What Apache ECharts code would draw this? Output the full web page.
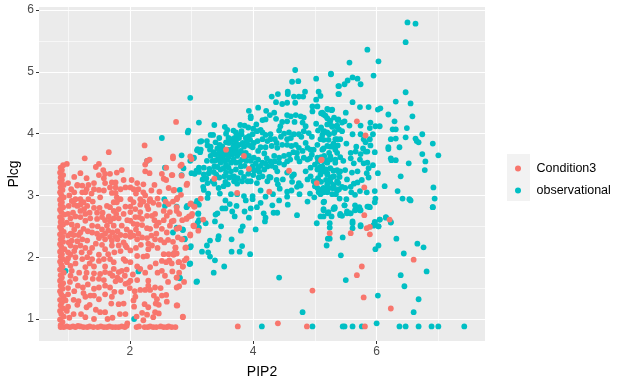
<!DOCTYPE html>
<html>
<head>
<meta charset="utf-8">
<script src="https://cdn.jsdelivr.net/npm/echarts@6/dist/echarts.min.js"></script>
<style>
html, body { margin: 0; padding: 0; background: #fff; }
#chart { width: 626px; height: 386px; }
</style>
</head>
<body>
<div id="chart"></div>
<script type="text/javascript">
var seriesNames = ['Condition3', 'observational'];
var xMajor = [2, 4, 6];
var xMinor = [1, 3, 5, 7];
var yMajor = [1, 2, 3, 4, 5, 6];
var yMinor = [1.5, 2.5, 3.5, 4.5, 5.5];

// values: [PIP2, Plcg]
var observationalPoints = [
	[6.5,5.8],[6.63,5.78],[6.47,5.48],[5.85,5.36],[5.56,5.15],[6.03,5.17],[5.26,4.96],[5.95,4.94],[5.61,4.91],[5.69,4.89],
	[5.53,4.86],[5.48,4.8],[5.39,4.77],[5.74,4.8],[5.39,4.64],[6.47,4.67],[6.31,4.52],[6.55,4.49],[5.61,4.51],[5.73,4.43],
	[5.87,4.43],[6.02,4.39],[6.06,4.41],[6.19,4.31],[6.58,4.28],[5.5,4.34],[5.21,4.39],[5.27,4.38],[6.29,4.2],[5.9,4.18],
	[5.56,4.13],[5.74,4.13],[5.98,4.12],[6.05,4.12],[5.89,4.09],[6.49,4.09],[6.26,4.07],[6.31,4.07],[5.61,3.99],[5.74,3.99],
	[5.94,3.99],[6.74,3.99],[6.47,3.94],[6.31,3.92],[6.23,3.91],[6.63,3.92],[5.89,3.91],[5.79,3.91],[6.65,3.88],[6.68,3.86],
	[6.91,3.84],[5.82,3.86],[5.9,3.81],[5.51,3.84],[6.19,3.78],[6.19,3.75],[6.37,3.78],[5.85,3.71],[5.97,3.7],[6.74,3.67],
	[7.0,3.65],[6.23,3.6],[6.31,3.57],[6.24,3.57],[6.79,3.55],[6.52,3.52],[5.94,3.49],[5.87,3.44],[6.78,3.41],[6.02,3.36],
	[6.39,3.31],[6.13,3.15],[6.92,3.13],[6.34,3.07],[5.97,3.07],[5.84,3.05],[6.42,2.95],[6.53,2.94],[6.55,2.92],[6.94,2.95],
	[5.98,2.95],[5.97,2.89],[5.89,2.81],[5.85,2.82],[6.91,2.81],[6.05,2.61],[6.15,2.65],[6.23,2.57],[5.97,2.57],[6.03,2.5],
	[5.74,2.5],[5.61,2.58],[5.61,2.47],[5.24,2.55],[5.24,2.48],[5.95,2.52],
	[5.14,4.31],[5.1,4.33],[5.2,4.25],[5.25,4.21],[5.37,4.22],[5.44,4.18],[5.48,4.2],[5.36,4.13],[5.28,4.11],[5.24,4.17],
	[5.14,4.03],[5.2,4.02],[5.32,4.03],[5.44,4.04],[5.12,3.98],[5.14,3.9],[5.22,3.9],[5.33,3.91],[5.41,3.91],[5.3,3.84],
	[5.37,3.81],[5.25,3.79],[5.14,3.76],[5.33,3.74],[5.67,3.79],[5.78,3.76],[5.58,3.69],[5.66,3.71],[5.74,3.67],[5.82,3.71],
	[5.25,3.63],[5.33,3.58],[5.41,3.62],[5.46,3.56],[5.2,3.57],[5.58,3.6],[5.63,3.52],[5.73,3.58],[5.79,3.52],[5.85,3.53],
	[5.36,3.41],[5.41,3.39],[5.49,3.41],[5.6,3.37],[5.69,3.39],[5.14,3.39],[5.09,3.41],[5.2,3.36],[5.4,3.3],[5.52,3.26],
	[5.84,3.36],[5.87,3.29],[5.76,3.25],[5.69,3.21],[5.63,3.19],[5.58,3.14],[5.25,3.22],[5.3,3.17],[5.38,3.2],[5.44,3.14],
	[5.49,3.12],[5.36,3.08],[5.28,3.12],[5.14,3.12],[5.14,3.05],[5.2,3.05],[5.65,3.01],[5.73,3.07],[5.59,3.05],[5.14,2.89],
	[5.4,2.95],[5.51,2.94],[5.48,2.84],[5.14,2.78],[5.32,2.81],[5.3,2.78],[5.22,2.73],[5.41,2.7],[5.44,2.67],[5.52,2.74],
	[5.58,2.71],[5.65,2.84],[5.66,2.77],[5.72,2.81],[5.73,2.76],[5.09,2.66],
	[4.68,5.03],[5.26,4.97],[5.02,4.89],[4.73,4.85],[4.63,4.84],[5.38,4.77],[5.38,4.64],[4.56,4.68],[4.56,4.64],[4.4,4.64],
	[4.3,4.6],[4.84,4.68],[4.81,4.6],[4.74,4.6],[4.66,4.6],[5.06,4.68],[5.09,4.61],[5.02,4.55],[4.37,4.51],[4.55,4.5],
	[4.47,4.48],[4.68,4.5],[2.98,4.58],[4.08,4.42],[3.93,4.37],[3.96,4.28],[3.96,4.25],[4.21,4.37],[4.34,4.34],[4.27,4.3],
	[4.2,4.23],[4.15,4.22],[4.37,4.24],[4.55,4.3],[4.69,4.3],[4.77,4.28],[4.82,4.26],[4.61,4.28],[4.96,4.44],[5.04,4.44],
	[4.96,4.36],[5.2,4.4],[5.28,4.39],[5.12,4.34],[5.17,4.29],[5.31,4.26],[5.38,4.23],[5.02,4.16],[4.47,4.19],[4.55,4.2],
	[4.44,4.12],[4.67,4.19],[4.8,4.18],[4.85,4.12],[3.12,4.18],[3.37,4.14],[2.95,4.05],[3.79,4.14],[3.86,4.13],[3.54,4.11],
	[3.58,4.06],[3.56,4.0],[3.31,3.98],[3.35,3.98],[3.45,3.93],[3.25,3.88],[3.16,3.88],[3.26,3.81],[3.31,3.79],[3.1,3.75],
	[3.15,3.74],[3.3,3.74],[3.39,3.86],
	[3.66,3.91],[3.72,3.88],[3.77,3.93],[3.81,3.99],[3.81,4.04],[3.88,3.93],[3.93,3.96],[3.99,3.99],[4.06,4.04],[4.12,4.06],
	[4.15,3.91],[4.07,3.88],[4.01,3.85],[3.96,3.8],[3.91,3.82],[3.85,3.79],[3.77,3.82],[3.69,3.82],[3.61,3.85],[3.56,3.86],
	[3.5,3.79],[3.47,3.72],[3.56,3.66],[3.64,3.74],[3.72,3.74],[3.8,3.72],[3.88,3.69],[3.93,3.64],[4.01,3.61],[4.08,3.58],
	[4.15,3.53],[4.23,3.47],[4.18,3.42],[4.08,3.45],[3.99,3.47],[3.89,3.56],[3.82,3.58],[3.74,3.64],[3.66,3.66],[3.58,3.58],
	[3.5,3.61],[3.42,3.58],[3.34,3.56],[3.25,3.56],[3.31,3.64],[3.39,3.66],[3.04,3.61],[3.12,3.45],[3.2,3.45],[3.29,3.43],
	[3.37,3.47],[3.47,3.53],[3.56,3.5],[3.64,3.53],[3.72,3.53],[3.8,3.47],[3.47,3.42],[3.56,3.37],[3.64,3.39],[3.72,3.42],
	[3.8,3.37],[3.69,3.31],[3.61,3.29],[3.53,3.31],[3.45,3.29],[3.34,3.23],[3.2,3.34],[3.18,3.26],[3.26,3.2],[3.37,3.19],
	[3.19,3.14],[3.2,3.09],[3.44,3.12],[3.52,3.15],[3.59,3.18],[3.69,3.23],[3.74,3.19],[3.82,3.23],[3.91,3.23],[3.96,3.23],
	[4.06,3.2],[4.09,3.29],[4.15,3.31],[4.26,3.3],[4.23,3.23],[4.28,3.29],[4.38,3.25],[4.4,3.18],[4.43,3.11],[4.48,3.26],
	[4.55,3.06],[4.63,3.31],[4.63,3.22],[4.74,3.2],[4.71,3.14],[4.77,3.16],
	[4.28,3.99],[4.28,3.91],[4.35,3.91],[4.23,3.88],[4.39,3.77],[4.47,3.82],[4.55,3.91],[4.61,3.93],[4.66,3.99],[4.74,3.99],
	[4.82,4.04],[4.9,4.01],[4.69,3.82],[4.74,3.77],[4.85,3.85],[4.88,3.77],[4.93,3.74],[4.55,3.82],[4.34,3.64],[4.42,3.61],
	[4.5,3.64],[4.58,3.66],[4.71,3.61],[4.82,3.61],[4.88,3.58],[4.71,3.69],[4.42,3.53],[4.5,3.5],[4.36,3.45],[4.39,3.39],
	[4.55,3.37],[4.66,3.34],[4.93,3.45],[5.04,3.42],[5.12,3.47],[5.2,3.53],[5.25,3.58],[5.33,3.53],[5.15,3.64],[5.23,3.69],
	[5.31,3.79],[5.36,3.91],[5.15,4.04],[5.23,3.99],[5.31,4.01],[5.39,4.07],[5.09,3.91],[5.04,3.82],[4.98,3.74],[5.12,3.74],
	[5.2,3.8],[5.36,3.69],[5.04,3.61],[5.09,3.34],[5.2,3.34],[5.31,3.31],[5.39,3.37],[4.93,3.31],[4.88,3.26],[4.98,3.23],
	[4.85,3.39],[5.36,3.23],[5.31,3.12],[5.39,3.1],[5.2,3.18],[5.12,3.1],[5.09,3.02],[4.92,3.03],[4.99,2.97],[4.88,2.9],
	[5.15,2.9],[5.31,2.8],[5.2,3.07],[5.04,3.12],[3.99,2.99],[3.85,2.99],[3.99,2.94],[3.88,2.92],[3.74,3.02],[3.64,3.02],
	[3.46,3.03],[3.27,3.03],[3.26,2.96],
	[7.42,0.88],[7.0,0.88],[6.89,0.88],[6.68,0.88],[6.47,0.88],[6.37,0.88],[6.0,0.93],[5.76,0.88],[5.61,0.88],[5.48,0.88],
	[5.45,0.88],[4.96,0.88],[4.14,0.88],[4.8,1.11],[6.6,1.11],[6.68,1.32],[6.02,1.38],[6.45,1.53],[6.39,1.71],[5.5,1.63],
	[4.42,1.67],[6.81,1.77],[3.09,1.61],[2.81,1.67],[3.36,1.75],[3.53,1.85],[2.98,1.9],[3.38,1.95],[3.3,2.01],[3.27,2.08],
	[3.17,2.09],[3.25,2.19],[3.3,2.27],[3.43,2.29],[3.44,2.34],[3.65,2.29],[3.65,2.09],[3.78,2.09],[3.82,2.18],[3.95,2.05],
	[2.99,2.18],[2.89,2.3],[2.86,2.45],[3.12,2.48],[3.23,2.55],[3.12,2.6],[3.38,2.58],[3.48,2.5],[3.8,2.43],[3.83,2.5],
	[4.04,2.45],[3.11,2.71],[3.7,2.66],[3.93,2.64],[4.19,2.58],[4.2,2.64],[4.17,2.71],[4.33,2.72],[4.39,2.72],[4.71,2.68],
	[5.03,2.55],[5.24,2.3],[5.21,2.3],[5.19,2.19],[5.45,2.32],[5.42,2.03],[5.61,2.55],[5.74,2.52],[5.98,2.13],[6.03,2.19],
	[6.32,2.3],[6.66,2.22],[6.76,2.16],[6.44,2.06],[6.91,2.81],[6.15,2.64],[6.23,2.56],[6.05,2.61],[5.95,2.51],[5.97,2.55],
	[6.03,2.5],[5.14,2.66],[5.21,2.71],[5.27,2.66],[5.32,2.79],[5.41,2.68],[5.52,2.71],[5.57,2.71],[5.65,2.76],[5.74,2.76],
	[5.87,2.82],[5.48,2.84],[5.14,2.76],[4.56,2.85],[4.31,2.84],[4.06,2.81],[3.96,2.79],[3.86,2.74],[3.73,2.83],[3.66,2.74],
	[3.55,2.79],[3.5,2.79],[3.42,2.71],[3.39,2.69],[3.12,2.85],[2.93,2.83],
	[2.52,3.93],[2.94,4.02],[3.14,3.87],[2.84,3.65],[3.09,3.73],[3.03,3.6],[2.98,3.56],[3.14,3.7],[2.87,3.44],[3.0,3.36],
	[3.05,3.35],[2.84,3.33],[2.81,3.09],[2.57,3.45],[2.56,2.94],[2.57,2.83],[2.76,2.82],[2.92,2.81],[3.09,2.91],[3.06,2.86],
	[3.11,2.7],[3.1,2.56],[2.76,2.48],[2.86,2.44],[2.7,2.4],[2.89,2.29],[2.98,2.16],[2.71,2.05],[2.97,1.89],[2.81,1.66],
	[3.08,1.6],[2.07,1.0],[2.14,1.77],[0.96,1.78],[2.28,3.56],
	// second pass through the dense middle
	[3.6,3.93],[3.64,3.88],[3.7,3.93],[3.74,3.98],[3.68,3.78],[3.74,3.8],[3.83,3.85],[3.9,3.88],[3.95,3.9],[3.99,3.78],
	[3.84,3.68],[3.76,3.68],[3.7,3.7],[3.62,3.68],[3.58,3.74],[3.53,3.7],[3.5,3.66],[3.44,3.68],[3.46,3.82],[3.42,3.76],
	[3.36,3.7],[3.52,3.56],[3.46,3.6],[3.6,3.62],[3.68,3.58],[3.78,3.54],[3.86,3.62],[3.96,3.56],[4.04,3.52],[4.12,3.48],
	[4.2,3.52],[4.1,3.38],[4.02,3.4],[3.94,3.42],[3.86,3.48],[3.6,3.45],[3.52,3.44],[3.42,3.46],[3.36,3.38],[3.28,3.36],
	[3.24,3.28],[3.12,3.38],[3.08,3.4],[3.4,3.34],[3.55,3.22],[3.65,3.3],[3.75,3.28],[3.85,3.3],[4.0,3.33],[3.92,3.35],
	[4.08,3.72],[4.18,3.68],[4.22,3.6],[4.28,3.55],[4.35,3.55],[4.3,3.48],[4.2,3.78],[4.12,3.78],[4.3,3.8],[4.38,3.85],
	[4.2,3.98],[4.15,4.02],[4.45,3.95],[4.5,4.0],[4.58,4.02],[4.62,3.8],[4.65,3.7],[4.6,3.58],[4.55,3.55],[4.75,3.55],
	[4.8,3.72],[4.92,3.6],[4.95,3.66],[5.0,3.5],[5.05,3.55],[5.1,3.62],[5.15,3.55],[5.08,3.46],[5.18,3.42],[5.25,3.44],
	[5.3,3.4],[5.28,3.3],[5.05,3.28],[5.1,3.22],[5.18,3.25],[5.25,3.28],[5.0,3.15],[5.06,3.05],[5.22,3.12],[5.28,3.02],
	[5.34,3.02],[4.42,4.05],[4.78,3.95],[4.95,3.95],[5.05,4.05],[5.1,4.1],[5.2,4.15],[5.28,4.12],[5.35,4.12],[3.92,4.1],
	[4.05,4.15],[4.0,4.08],[3.72,4.02],[3.68,4.05],[3.45,3.78],[3.38,3.56],
	// lower fringe of the cloud
	[4.32,3.02],[4.2,2.98],[4.12,3.08],[4.55,2.98],[4.62,3.08],[4.75,3.02],[3.55,2.92],[3.62,2.86],[4.12,2.88],[4.42,2.92]
];

var condition3Points = [
	// scattered top edge
	[1.66,3.7],[1.27,3.6],[2.24,3.81],[0.98,3.51],[1.5,3.51],[1.45,3.46],[1.2,3.36],[2.28,3.56],[2.32,3.58],[2.25,3.5],
	[2.25,3.39],[2.32,3.36],[1.57,3.41],[1.5,3.33],[1.6,3.35],[1.68,3.35],[1.79,3.37],[1.87,3.41],[1.58,3.28],[1.71,3.21],
	[1.77,3.21],[2.03,3.25],[1.15,3.17],[1.23,3.16],[1.33,3.17],
	// left column
	[0.88,0.9],[0.91,0.95],[0.87,0.99],[0.93,1.04],[0.89,1.08],[0.87,1.13],[0.92,1.17],[0.88,1.22],[0.9,1.27],[0.87,1.31],
	[0.93,1.36],[0.89,1.4],[0.87,1.45],[0.91,1.49],[0.88,1.54],[0.92,1.58],[0.87,1.62],[0.9,1.67],[0.88,1.71],[0.93,1.75],
	[0.87,1.8],[0.91,1.84],[0.89,1.88],[0.87,1.93],[0.92,1.97],[0.88,2.01],[0.9,2.05],[0.87,2.09],[0.94,2.13],[0.89,2.17],
	[0.87,2.21],[0.92,2.25],[0.88,2.29],[0.91,2.33],[0.87,2.37],[0.93,2.41],[0.89,2.45],[0.87,2.49],[0.92,2.53],[0.88,2.57],
	[0.9,2.61],[0.87,2.65],[0.94,2.69],[0.89,2.73],[0.87,2.77],[0.92,2.81],[0.88,2.85],[0.9,2.89],[0.87,2.93],[0.93,2.97],
	[0.89,3.01],[0.87,3.05],[0.91,3.09],[0.88,3.13],[0.93,3.17],[0.87,3.21],[0.9,3.25],[0.88,3.29],[0.92,3.33],[0.87,3.37],
	[0.9,3.41],[0.88,3.45],[0.92,3.49],
	// bottom row
	[0.88,0.87],[0.93,0.87],[0.98,0.88],[1.03,0.87],[1.08,0.88],[1.12,0.87],[1.16,0.89],[1.2,0.88],[1.25,0.87],[1.31,0.87],
	[1.35,0.88],[1.41,0.87],[1.48,0.87],[1.53,0.88],[1.58,0.87],[1.63,0.87],[1.67,0.88],[1.72,0.87],[1.77,0.87],[1.82,0.87],
	[1.87,0.88],[1.92,0.87],[1.95,0.89],[1.96,0.93],[2.11,0.87],[2.15,0.88],[2.24,0.87],[2.29,0.87],[2.33,0.88],[2.38,0.87],
	[2.43,0.87],[2.5,0.88],[2.55,0.87],[2.6,0.87],[2.63,0.88],[2.68,0.87],[2.74,0.87],
	// body
	[2.01,3.13],[1.93,3.13],[2.14,3.1],[2.22,3.05],[2.06,3.1],[1.77,3.13],[1.68,3.13],[1.5,3.09],[1.58,3.08],[1.71,3.04],
	[1.77,3.04],[1.05,3.1],[1.15,3.16],[1.23,3.05],[1.28,3.05],[1.42,3.1],[2.48,3.06],[2.4,3.17],[2.63,3.12],[2.71,3.08],
	[2.76,2.94],[2.55,3.27],[2.59,3.25],[2.68,3.33],[2.84,3.32],[2.92,3.17],[2.82,3.48],[2.7,3.6],[2.59,3.45],[2.52,3.35],
	[3.0,3.59],[1.06,2.91],[1.12,2.94],[1.2,2.94],[1.33,2.94],[1.52,2.97],[1.79,2.97],[1.85,2.94],[1.74,2.89],[1.79,2.89],
	[2.01,2.94],[2.17,2.94],[2.25,3.0],[2.33,2.94],[2.06,2.89],[2.17,2.85],[2.22,2.9],[2.32,2.91],[2.47,2.85],[2.63,2.86],
	[2.55,2.75],[1.01,2.83],[1.15,2.83],[1.2,2.75],[1.25,2.89],[1.31,2.83],[1.42,2.8],[1.51,2.8],[1.63,2.83],[1.68,2.81],
	[1.74,2.75],[1.82,2.78],[2.01,2.82],[2.09,2.78],[2.17,2.73],[2.3,2.78],[2.41,2.7],[2.65,2.73],[2.76,2.75],[2.92,2.62],
	[3.0,2.67],[3.03,2.51],[1.04,2.63],[1.12,2.66],[1.2,2.65],[1.28,2.7],[1.36,2.63],[1.47,2.62],[1.55,2.65],[1.66,2.66],
	[1.74,2.63],[1.82,2.63],[2.01,2.73],[2.09,2.65],[2.2,2.62],[2.28,2.67],[2.36,2.67],[2.47,2.56],[2.6,2.67],[2.71,2.59],
	[1.15,2.51],[0.98,2.56],[1.06,2.53],[1.28,2.59],[1.39,2.51],[1.25,2.46],[1.63,2.51],[1.74,2.51],[1.87,2.51],[2.01,2.59],
	[2.06,2.54],[2.12,2.53],[2.28,2.47],[2.33,2.46],[2.43,2.51],[2.52,2.46],[2.65,2.51],[2.76,2.46],
	[1.04,2.38],[1.09,2.36],[1.17,2.36],[1.39,2.4],[1.47,2.38],[1.55,2.35],[1.6,2.38],[1.68,2.33],[1.77,2.33],[1.85,2.36],
	[1.93,2.35],[2.01,2.4],[2.06,2.35],[2.14,2.38],[2.2,2.32],[2.28,2.31],[2.41,2.29],[1.01,2.24],[1.06,2.27],[1.15,2.26],
	[1.23,2.29],[1.31,2.27],[1.5,2.31],[1.6,2.29],[1.71,2.27],[1.8,2.29],[1.9,2.24],[2.01,2.33],[2.12,2.29],[2.56,2.24],
	[2.43,2.38],[2.84,2.29],[2.74,2.15],[2.98,2.35],[3.11,2.43],
	[1.04,2.19],[1.12,2.16],[1.2,2.19],[1.28,2.15],[1.39,2.15],[1.5,2.04],[1.6,2.13],[1.71,2.19],[1.82,2.19],[1.93,2.19],
	[1.95,2.16],[2.36,2.19],[2.3,2.13],[2.28,2.02],[2.22,2.01],[2.12,2.02],[2.01,2.11],[1.9,1.97],[1.12,2.0],[1.23,1.97],
	[1.31,2.0],[1.39,1.97],[1.5,1.94],[1.58,1.97],[1.68,1.97],[1.74,1.92],[1.93,1.94],[2.01,1.92],[1.04,2.04],[0.98,1.92],
	[2.52,1.94],[2.59,1.92],[2.64,1.95],[2.79,1.92],[2.9,2.15],[2.86,1.85],[2.71,2.04],[2.63,2.05],
	[1.04,1.86],[1.06,1.78],[1.28,1.84],[1.42,1.85],[1.52,1.73],[1.6,1.76],[1.68,1.74],[1.74,1.81],[1.82,1.76],[1.87,1.78],
	[2.17,1.81],[2.33,1.84],[2.52,1.78],[2.57,1.7],[2.76,1.67],[1.04,1.7],[1.12,1.65],[1.28,1.67],[1.42,1.74],[1.4,1.65],
	[1.5,1.65],[1.58,1.63],[1.8,1.67],[1.85,1.63],[2.01,1.62],[2.12,1.63],[2.3,1.62],[1.03,1.6],[1.16,1.54],[1.24,1.51],
	[1.32,1.56],[1.42,1.49],[1.5,1.51],[1.6,1.54],[1.68,1.51],[1.77,1.61],[1.93,1.57],[1.98,1.59],[2.3,1.54],[2.17,1.47],
	[2.25,1.47],[2.33,1.47],[2.41,1.51],
	[1.09,1.31],[1.17,1.29],[1.28,1.36],[1.36,1.38],[1.42,1.38],[1.5,1.32],[1.71,1.36],[1.75,1.44],[1.86,1.44],[2.09,1.36],
	[2.06,1.3],[2.39,1.38],[2.44,1.32],[2.52,1.38],[2.59,1.39],[1.82,1.24],[1.35,1.23],[1.3,1.19],[1.15,1.23],[2.24,1.24],
	[2.3,1.19],[2.47,1.23],[2.76,1.22],[2.07,1.2],[1.09,1.08],[1.21,1.08],[1.28,1.03],[1.52,1.11],[1.6,1.11],[1.64,1.0],
	[1.84,1.08],[1.93,1.08],[2.11,1.04],[2.28,1.07],[2.41,1.11],[2.47,1.09],[2.86,1.03],[1.42,1.0],[2.22,0.98],[0.96,1.3],
	[0.98,1.13],
	// second pass through the body
	[1.1,2.85],[1.08,2.72],[1.2,2.85],[1.26,2.78],[1.35,2.72],[1.4,2.9],[1.47,2.72],[1.56,2.72],[1.6,2.6],[1.68,2.58],
	[1.78,2.7],[1.9,2.7],[1.93,2.82],[1.96,2.6],[1.95,2.45],[2.1,2.45],[2.2,2.52],[1.8,2.42],[1.72,2.4],[1.65,2.43],
	[1.55,2.45],[1.48,2.5],[1.32,2.42],[1.2,2.4],[1.1,2.45],[1.0,2.35],[1.0,2.7],[1.02,3.0],[1.1,3.05],[1.3,3.1],
	[1.38,3.03],[1.6,3.2],[1.85,3.1],[2.1,3.03],[2.28,2.83],[2.38,2.88],[2.4,2.6],[2.55,2.6],[2.6,2.4],[2.5,2.28],
	[2.35,2.35],[2.3,2.22],[2.18,2.2],[2.1,2.15],[1.85,2.1],[1.75,2.08],[1.65,2.05],[1.55,2.2],[1.45,2.22],[1.35,2.08],
	[1.22,2.08],[1.1,2.1],[1.0,2.08],[1.0,1.98],[1.12,1.9],[1.35,1.9],[1.6,1.85],[1.95,1.8],[2.05,1.72],[2.12,1.85],
	[2.25,1.75],[2.42,1.9],[2.45,1.75],[2.62,1.6],[1.18,1.75],[1.3,1.75],[1.72,1.7],[1.92,1.7],[1.0,1.5],[1.0,1.4],
	[1.1,1.45],[1.25,1.42],[1.6,1.4],[1.7,1.25],[2.0,1.5],[2.08,1.45],[2.5,1.5],[2.42,1.25],[2.6,1.28],[1.0,1.2],
	[1.02,1.02],[1.45,1.15],[2.2,1.1],[2.38,1.03],[1.72,1.02],[1.9,1.25],[2.15,2.65],[2.45,2.95],[2.35,3.08],[2.12,3.2],
	[2.22,3.18],[1.9,3.25],[1.42,3.2],[1.3,3.28],[1.1,3.3],[1.0,3.2],[2.58,2.9],[2.7,2.9],[2.8,2.7],[2.85,2.6],
	[2.62,2.28],[2.7,2.25],[2.78,2.32],[2.45,2.15],[2.55,2.05],[2.68,1.9],[2.8,1.75],[2.88,1.6],
	// among the observational cloud
	[5.68,4.2],[5.82,3.97],[5.8,3.13],[5.8,2.68],[6.21,2.61],[5.89,2.49],[5.84,2.47],[5.1,3.57],
	[3.75,0.88],[4.4,0.93],[4.87,0.88],[5.81,0.88],[6.23,1.17],[5.79,1.35],[4.96,1.46],[5.68,1.71],[5.76,1.85],[6.6,1.96],
	[5.24,2.39],[5.58,2.39],[5.89,2.37],[3.19,2.61],[2.86,1.04],[2.77,1.22],[2.8,1.53],[2.76,1.51],[2.76,1.67],[2.69,1.77],
	[2.86,1.85],[2.8,1.92],[2.89,1.95],[2.92,1.98],[2.76,2.06],[2.72,2.07],[2.74,2.16],[2.91,2.16],[2.85,2.29],[2.98,2.37],
	[2.8,2.47],[3.04,2.5],[2.76,2.81],[2.98,2.86],[3.04,2.82],[2.92,2.63],[2.96,2.66],[3.01,2.7],[2.68,2.58],
	[2.75,4.19],[2.7,3.63],[2.98,3.63],[2.84,3.5],[2.69,3.33],[2.93,3.19],[3.37,3.27],[3.56,3.74],[3.85,3.64],[3.93,3.43],
	[3.74,3.04],[4.26,3.06],[4.58,3.4],[5.03,3.2],[5.11,3.58],[3.15,2.95],[2.83,3.01],[2.72,3.09],[2.77,2.96],[2.99,2.87],
	[3.05,2.82],[3.04,2.51],[2.8,2.48]
];

var chart = echarts.init(document.getElementById('chart'));
var baseFont = '"Liberation Sans", Arial, sans-serif';

function minorAxis(min, max, values) {
	return {
		type: 'value',
		min: min,
		max: max,
		axisLine: { show: false },
		axisLabel: { show: false, customValues: values },
		axisTick: { show: false, customValues: values },
		splitLine: { show: true, lineStyle: { color: '#ffffff', width: 0.6 } }
	};
}

var option = {
	animation: false,
	backgroundColor: '#ffffff',
	textStyle: { fontFamily: baseFont },
	grid: {
		left: 39, right: 141, top: 7, bottom: 45,
		outerBoundsMode: 'none',
		show: true, backgroundColor: '#EBEBEB', borderWidth: 0
	},
	legend: {
		orient: 'vertical',
		left: 510,
		top: 157,
		itemWidth: 27,
		itemHeight: 6,
		itemGap: 9,
		icon: 'circle',
		data: seriesNames,
		textStyle: { fontSize: 12.5, color: '#000000', fontFamily: baseFont }
	},
	graphic: [{
		type: 'rect',
		z: -1,
		shape: { x: 507, y: 154, width: 23, height: 47 },
		style: { fill: '#F2F2F2' }
	}],
	xAxis: [{
		type: 'value',
		min: 0.529,
		max: 7.756,
		name: 'PIP2',
		nameLocation: 'middle',
		nameGap: 24,
		nameMoveOverlap: false,
		nameTextStyle: { fontSize: 14, color: '#000000' },
		axisLine: { show: false },
		axisTick: { length: 3, customValues: xMajor, lineStyle: { color: '#333333', width: 1 } },
		axisLabel: { customValues: xMajor, color: '#4D4D4D', fontSize: 12, margin: 5 },
		splitLine: { show: true, lineStyle: { color: '#ffffff', width: 1.1 } }
	}, minorAxis(0.529, 7.756, xMinor)],
	yAxis: [{
		type: 'value',
		min: 0.644,
		max: 6.05,
		name: 'Plcg',
		nameLocation: 'middle',
		nameGap: 18,
		nameMoveOverlap: false,
		nameTextStyle: { fontSize: 14, color: '#000000' },
		axisLine: { show: false },
		axisTick: { length: 3, customValues: yMajor, lineStyle: { color: '#333333', width: 1 } },
		axisLabel: { customValues: yMajor, color: '#4D4D4D', fontSize: 12, margin: 5 },
		splitLine: { show: true, lineStyle: { color: '#ffffff', width: 1.1 } }
	}, minorAxis(0.644, 6.05, yMinor)],
	series: [{
		name: 'observational',
		type: 'scatter',
		symbolSize: 5.8,
		itemStyle: { color: '#00BFC4', opacity: 1 },
		data: observationalPoints,
		z: 2
	}, {
		name: 'Condition3',
		type: 'scatter',
		symbolSize: 5.8,
		itemStyle: { color: '#F8766D', opacity: 1 },
		data: condition3Points,
		z: 3
	}]
};
chart.setOption(option);
</script>
</body>
</html>
